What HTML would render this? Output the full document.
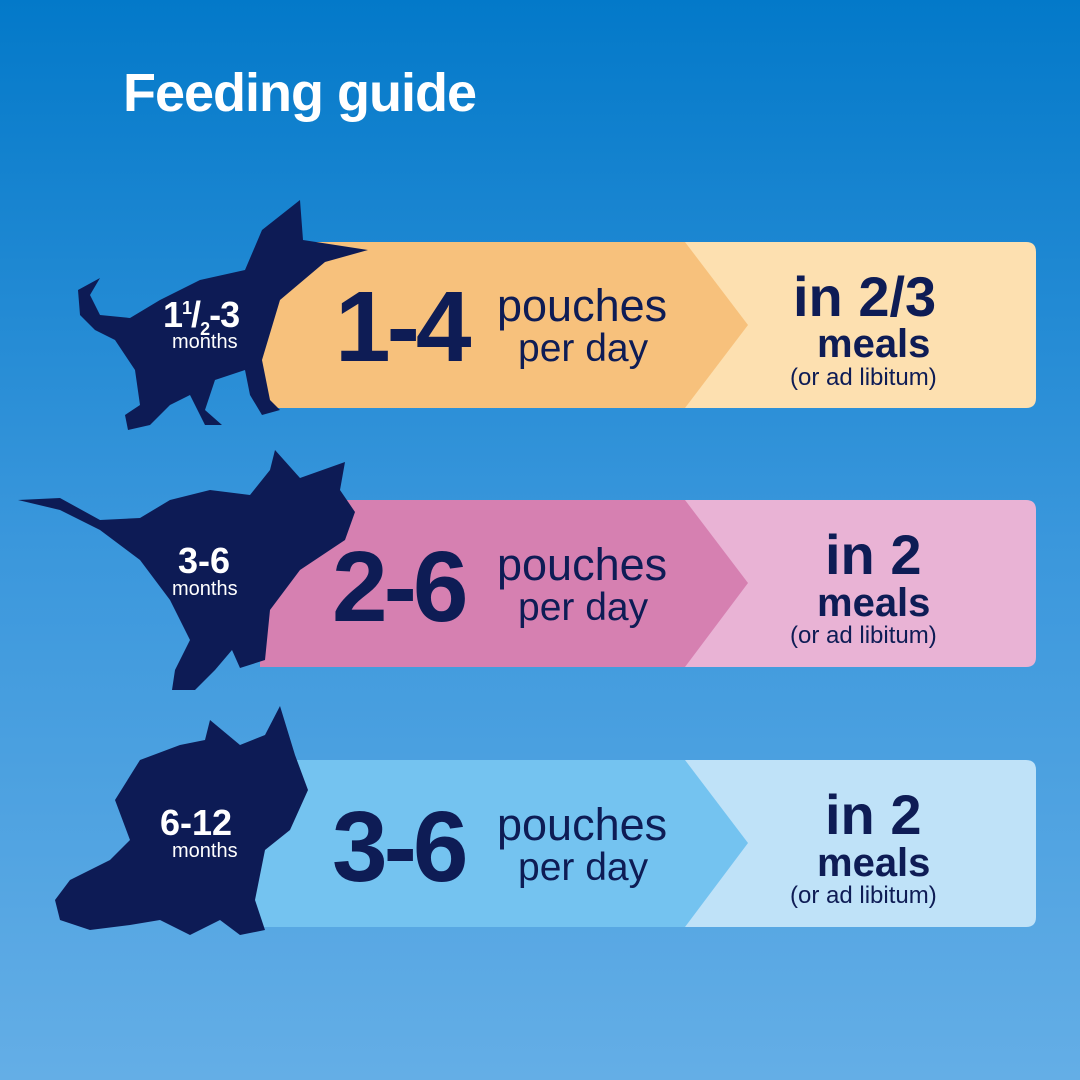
<!DOCTYPE html>
<html><head><meta charset="utf-8"><style>
html,body{margin:0;padding:0}
body{width:1080px;height:1080px;overflow:hidden;position:relative;background:linear-gradient(180deg,#0379c9 0%,#3a97dc 50%,#64aee6 100%);font-family:"Liberation Sans",sans-serif}
.t{position:absolute;white-space:nowrap;color:#0e1c55;font-weight:bold}
</style></head><body>
<div class="t" style="left:123px;top:62px;font-size:54px;color:#fff;letter-spacing:-1px">Feeding guide</div>
<svg width="1080" height="1080" style="position:absolute;left:0;top:0">
<path d="M260 242 H1026 Q1036 242 1036 252 V398 Q1036 408 1026 408 H260 Z" fill="#fde0b0"/>
<path d="M260 242 H685 L748 325 L685 408 H260 Z" fill="#f7c17c"/>
<path d="M260 500 H1026 Q1036 500 1036 510 V657 Q1036 667 1026 667 H260 Z" fill="#e9b3d5"/>
<path d="M260 500 H685 L748 583 L685 667 H260 Z" fill="#d680b1"/>
<path d="M240 760 H1026 Q1036 760 1036 770 V917 Q1036 927 1026 927 H240 Z" fill="#bfe2f8"/>
<path d="M240 760 H685 L748 843 L685 927 H240 Z" fill="#74c3f0"/>
<g fill="#0d1b55">
<path d="M300 200 L303 240 L368 250 L325 262 L280 300 L262 360 L270 400 L280 410 L262 415 L250 395 L245 370 L215 380 L205 410 L222 425 L205 425 L190 395 L170 405 L150 425 L128 430 L125 415 L140 405 L135 370 L115 340 L95 330 L80 315 L78 290 L100 278 L90 295 L100 315 L130 318 L160 300 L200 280 L245 270 L262 230 Z"/>
<path d="M275 450 L300 478 L345 462 L340 490 L355 512 L345 540 L300 570 L270 610 L265 660 L240 668 L232 650 L215 670 L195 690 L172 690 L175 670 L190 640 L170 600 L140 560 L100 530 L60 510 L18 500 L60 498 L100 520 L140 518 L170 500 L210 490 L250 495 L270 470 Z"/>
<path d="M280 706 L295 755 L308 790 L290 830 L265 850 L255 900 L265 930 L240 935 L220 920 L190 935 L160 920 L130 925 L90 930 L60 920 L55 900 L70 880 L110 860 L130 840 L115 800 L140 760 L180 745 L205 740 L210 720 L240 745 L265 735 Z"/>
</g>
</svg>
<div class="t" style="left:163px;top:294px;font-size:36px;color:#fff;letter-spacing:-1px">1<sup style="font-size:18px">1</sup>/<sub style="font-size:18px">2</sub>-3</div>
<div class="t" style="left:172px;top:331px;font-size:20px;color:#fff;font-weight:normal">months</div>
<div class="t" style="left:178px;top:540px;font-size:36px;color:#fff">3-6</div>
<div class="t" style="left:172px;top:578px;font-size:20px;color:#fff;font-weight:normal">months</div>
<div class="t" style="left:160px;top:802px;font-size:36px;color:#fff">6-12</div>
<div class="t" style="left:172px;top:840px;font-size:20px;color:#fff;font-weight:normal">months</div>

<div class="t" style="left:335px;top:270px;font-size:100px;letter-spacing:-4px">1-4</div>
<div class="t" style="left:497px;top:280px;font-size:45px;font-weight:normal">pouches</div>
<div class="t" style="left:518px;top:327px;font-size:39px;font-weight:normal">per day</div>
<div class="t" style="left:793px;top:264px;font-size:56px">in 2/3</div>
<div class="t" style="left:817px;top:322px;font-size:40px">meals</div>
<div class="t" style="left:790px;top:364px;font-size:24px;font-weight:normal">(or ad libitum)</div>

<div class="t" style="left:332px;top:530px;font-size:100px;letter-spacing:-4px">2-6</div>
<div class="t" style="left:497px;top:539px;font-size:45px;font-weight:normal">pouches</div>
<div class="t" style="left:518px;top:586px;font-size:39px;font-weight:normal">per day</div>
<div class="t" style="left:825px;top:522px;font-size:56px">in 2</div>
<div class="t" style="left:817px;top:581px;font-size:40px">meals</div>
<div class="t" style="left:790px;top:622px;font-size:24px;font-weight:normal">(or ad libitum)</div>

<div class="t" style="left:332px;top:790px;font-size:100px;letter-spacing:-4px">3-6</div>
<div class="t" style="left:497px;top:799px;font-size:45px;font-weight:normal">pouches</div>
<div class="t" style="left:518px;top:846px;font-size:39px;font-weight:normal">per day</div>
<div class="t" style="left:825px;top:782px;font-size:56px">in 2</div>
<div class="t" style="left:817px;top:841px;font-size:40px">meals</div>
<div class="t" style="left:790px;top:882px;font-size:24px;font-weight:normal">(or ad libitum)</div>
</body></html>
